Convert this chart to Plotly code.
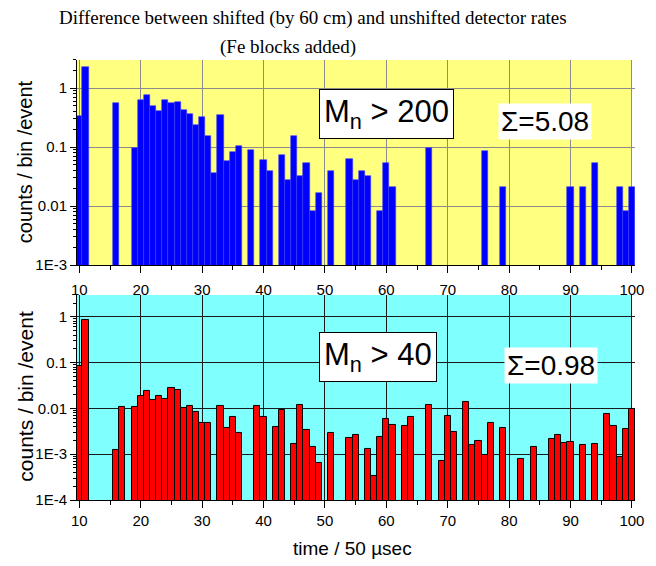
import plotly.graph_objects as go

# ---------------- data ----------------
top_x = [10, 11, 16, 19, 20, 21, 22, 23, 24, 25, 26, 27, 28, 29, 30, 31, 32, 33, 34, 35, 36, 38,
         40, 41, 43, 44, 45, 46, 47, 48, 49, 51, 54, 55, 56, 57, 59, 60, 61, 67,
         76, 79, 90, 92, 94, 98, 99, 100]
top_y = [0.34, 2.27, 0.56, 0.096, 0.64, 0.76, 0.50, 0.41, 0.64, 0.565, 0.58, 0.42, 0.36, 0.24, 0.33,
         0.156, 0.037, 0.35, 0.058, 0.082, 0.103, 0.089,
         0.060, 0.040, 0.073, 0.028, 0.152, 0.032, 0.053, 0.0081, 0.0164, 0.040, 0.064, 0.028,
         0.040, 0.032, 0.0081, 0.053, 0.021, 0.098,
         0.085, 0.021, 0.021, 0.021, 0.053, 0.021, 0.0081, 0.021]

bot_x = [10, 11, 16, 17, 19, 20, 21, 22, 23, 24, 25, 26, 27, 28, 29, 30, 31, 33, 34, 35, 36, 39,
         40, 42, 43, 45, 46, 47, 48, 49, 51, 54, 55, 57, 58, 59, 60, 61, 63, 64, 67, 69, 70,
         71, 73, 74, 75, 76, 77, 79, 82, 84, 87, 88, 89, 90, 92, 94, 96, 97, 98, 99, 100]
bot_y = [0.084, 0.85, 0.00125, 0.0109, 0.0109, 0.0189, 0.0243, 0.0152, 0.0183, 0.0163, 0.0273,
         0.0251, 0.0100, 0.0112, 0.0083, 0.0049, 0.0047, 0.0112, 0.0037, 0.0064, 0.00285, 0.0112,
         0.0064, 0.00385, 0.0092, 0.00167, 0.0116, 0.00337, 0.00141, 0.00065, 0.00295, 0.00221,
         0.00263, 0.00127, 0.000334, 0.0024, 0.0058, 0.0043, 0.0042, 0.0066, 0.0118, 0.00071,
         0.0070, 0.0031, 0.0137, 0.00156, 0.00194, 0.00094, 0.00479, 0.0038, 0.0008, 0.00141,
         0.00214, 0.00258, 0.00172, 0.00188, 0.00158, 0.00167, 0.0074, 0.0042, 0.00085, 0.0036,
         0.0097]

x_ticks = [10, 20, 30, 40, 50, 60, 70, 80, 90, 100]
x_minor = [15, 25, 35, 45, 55, 65, 75, 85, 95]
top_yticks = [1e-3, 1e-2, 1e-1, 1]
top_yticktext = ["1E-3", "0.01", "0.1", "1"]
bot_yticks = [1e-4, 1e-3, 1e-2, 1e-1, 1]
bot_yticktext = ["1E-4", "1E-3", "0.01", "0.1", "1"]

title1 = "Difference between shifted (by 60 cm) and unshifted detector rates"
title2 = "(Fe blocks added)"
ylab = "counts / bin /event"
xlab = "time / 50 \u00b5sec"

# ---------------- figure ----------------
fig = go.Figure()
fig.add_trace(go.Bar(x=top_x, y=top_y, width=1.0, xaxis="x", yaxis="y",
                     marker=dict(color="#0000FF", line=dict(color="#3a3aff", width=0.6)),
                     showlegend=False))
fig.add_trace(go.Bar(x=bot_x, y=bot_y, width=1.0, xaxis="x2", yaxis="y2",
                     marker=dict(color="#FF0000", line=dict(color="#000000", width=1)),
                     showlegend=False))

def minor_log(lo, hi):
    vals = []
    for d in range(lo, hi):
        for m in range(2, 10):
            vals.append(m * 10.0 ** d)
    return vals

FONT = "Liberation Sans, Arial, sans-serif"
XR = [9.62, 100.5]

axis_common = dict(showline=True, linecolor="black", linewidth=1, zeroline=False,
                   tickfont=dict(family=FONT, size=15, color="black"))

fig.update_layout(
    width=656, height=566,
    margin=dict(l=77, r=21, t=60, b=66),
    paper_bgcolor="white", plot_bgcolor="rgba(0,0,0,0)",
    bargap=0, barmode="overlay",
    font=dict(family=FONT, color="black"),
    xaxis=dict(domain=[0, 1], range=XR, anchor="y", tickvals=x_ticks, ticks="outside",
               ticklen=7, tickcolor="black", showgrid=True, gridcolor="#8c8c8c", gridwidth=1,
               ticklabelstandoff=4,
               minor=dict(tickvals=x_minor, ticks="outside", ticklen=4, tickcolor="black", showgrid=False),
               **axis_common),
    yaxis=dict(domain=[0.534, 1], type="log", range=[-3, 0.477], anchor="x",
               tickvals=top_yticks, ticktext=top_yticktext, ticks="outside", ticklen=6,
               tickcolor="black", showgrid=True, gridcolor="#8c8c8c", gridwidth=1,
               minor=dict(tickvals=minor_log(-3, 1), ticks="outside", ticklen=3,
                          tickcolor="black", showgrid=False),
               **axis_common),
    xaxis2=dict(domain=[0, 1], range=XR, anchor="y2", tickvals=x_ticks, ticks="outside",
                ticklen=7, tickcolor="black", showgrid=True, gridcolor="#1a1a1a", gridwidth=1,
                minor=dict(tickvals=x_minor, ticks="outside", ticklen=4, tickcolor="black", showgrid=False),
                **axis_common),
    yaxis2=dict(domain=[0, 0.466], type="log", range=[-4, 0.477], anchor="x2",
                tickvals=bot_yticks, ticktext=bot_yticktext, ticks="outside", ticklen=6,
                tickcolor="black", showgrid=True, gridcolor="#1a1a1a", gridwidth=1,
                minor=dict(tickvals=minor_log(-4, 1), ticks="outside", ticklen=3,
                           tickcolor="black", showgrid=False),
                **axis_common),
)

# backgrounds
fig.add_shape(type="rect", xref="x", yref="y domain", x0=XR[0], x1=100, y0=0, y1=1,
              fillcolor="#FFFF80", line=dict(width=0), layer="below")
fig.add_shape(type="rect", xref="x2", yref="y2 domain", x0=XR[0], x1=100, y0=0, y1=1,
              fillcolor="#80FFFF", line=dict(width=0), layer="below")

SERIF = "Liberation Serif, Times New Roman, serif"
ann = [
    dict(text=title1, x=0.423, y=1.095, font=dict(family=SERIF, size=19)),
    dict(text=title2, x=0.378, y=1.030, font=dict(family=SERIF, size=19)),
    dict(text=ylab, x=-0.093, y=0.768, textangle=-90, font=dict(family=FONT, size=20)),
    dict(text=ylab, x=-0.093, y=0.235, textangle=-90, font=dict(family=FONT, size=21)),
    dict(text=xlab, x=0.493, y=-0.111, font=dict(family=FONT, size=19)),
    dict(text="M<sub>n</sub> > 200", x=0.554, y=0.877, font=dict(family=FONT, size=31),
         bgcolor="white", bordercolor="black", borderwidth=1, borderpad=4),
    dict(text="\u03a3=5.08", x=0.839, y=0.861, font=dict(family=FONT, size=28),
         bgcolor="white", borderpad=2),
    dict(text="M<sub>n</sub> > 40", x=0.539, y=0.325, font=dict(family=FONT, size=31),
         bgcolor="white", bordercolor="black", borderwidth=1, borderpad=4),
    dict(text="\u03a3=0.98", x=0.849, y=0.305, font=dict(family=FONT, size=28),
         bgcolor="white", borderpad=2),
]
for a in ann:
    fig.add_annotation(xref="paper", yref="paper", showarrow=False,
                       xanchor="center", yanchor="middle", **a)

fig.write_html("out.html")
